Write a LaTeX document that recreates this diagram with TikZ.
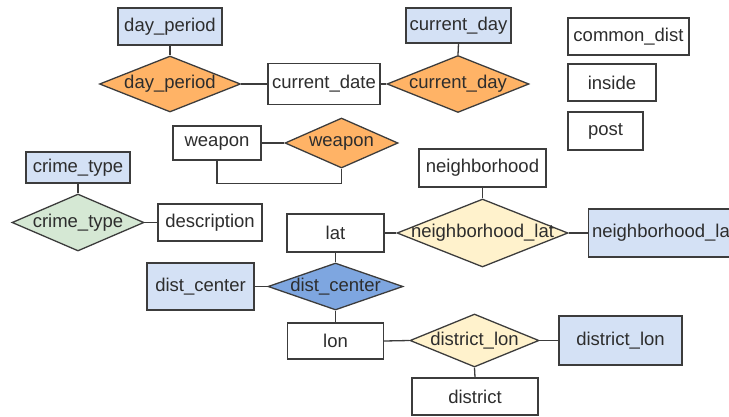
\documentclass[tikz,border=0pt]{standalone}
\usepackage{fontspec}
\setmainfont{Liberation Sans}
\usetikzlibrary{shapes.geometric}
\definecolor{entblue}{RGB}{212,225,245}
\definecolor{relorange}{RGB}{255,179,102}
\definecolor{relgreen}{RGB}{213,232,212}
\definecolor{relyellow}{RGB}{255,242,204}
\definecolor{relblue}{RGB}{126,166,224}
\definecolor{edgegray}{RGB}{60,60,60}
\definecolor{txtgray}{RGB}{45,45,45}
\begin{document}
\begin{tikzpicture}[x=1pt,y=-1pt,
  every node/.style={font=\fontsize{18.5}{22}\selectfont, text=txtgray},
  attr/.style={draw=edgegray, line width=1.3pt, fill=white, rectangle, inner sep=0pt},
  ent/.style={attr, fill=entblue},
  rel/.style={draw=edgegray, line width=1.3pt, diamond, inner sep=0pt},
  link/.style={draw=edgegray, line width=1.3pt}
]
\useasboundingbox (0,0) rectangle (729,416);
\clip (0,0) rectangle (729,416);

% entity-like boxes (blue) and plain attribute boxes
\node[ent,  minimum width=104pt, minimum height=37pt] (e_dayp)   at (170,26.5)  {day\_period};
\node[attr, minimum width=112pt, minimum height=41pt] (a_curdate) at (324,84)   {current\_date};
\node[ent,  minimum width=105pt, minimum height=35pt] (e_curday) at (458.5,25.5) {current\_day};
\node[attr, minimum width=121pt, minimum height=37pt] (a_common) at (628.5,36.5) {common\_dist};
\node[attr, minimum width=88pt,  minimum height=37pt] (a_inside) at (612,82.5)  {inside};
\node[attr, minimum width=75pt,  minimum height=38pt] (a_post)   at (605.5,131) {post};
\node[attr, minimum width=88pt,  minimum height=34pt] (a_weapon) at (217,143)   {weapon};
\node[ent,  minimum width=104pt, minimum height=31pt] (e_crime)  at (78,167.5)  {crime\_type};
\node[attr, minimum width=104pt, minimum height=37pt] (a_desc)   at (210,222.5) {description};
\node[attr, minimum width=97pt,  minimum height=38pt] (a_lat)    at (335.5,233) {lat};
\node[attr, minimum width=127pt, minimum height=38pt] (a_neigh)  at (482.5,168) {neighborhood};
\node[ent,  minimum width=150pt, minimum height=48pt] (e_neighlat) at (663.5,233) {neighborhood\_lat};
\node[ent,  minimum width=107pt, minimum height=47pt] (e_distc)  at (200.5,286.5) {dist\_center};
\node[attr, minimum width=96pt,  minimum height=36pt] (a_lon)    at (335.5,341) {lon};
\node[ent,  minimum width=123pt, minimum height=49pt] (e_distlon) at (620.5,340.5) {district\_lon};
\node[attr, minimum width=126pt, minimum height=37pt] (a_district) at (475,396.5) {district};

% relationship diamonds
\node[rel, fill=relorange, minimum width=141pt, minimum height=56pt,
      label={center:day\_period}] (r_dayp) at (170,84) {};
\node[rel, fill=relorange, minimum width=142pt, minimum height=57pt,
      label={center:current\_day}] (r_curday) at (458,84) {};
\node[rel, fill=relorange, minimum width=113pt, minimum height=50pt,
      label={center:weapon}] (r_weapon) at (341.5,143) {};
\node[rel, fill=relgreen, minimum width=132pt, minimum height=57pt,
      label={center:crime\_type}] (r_crime) at (78,222.5) {};
\node[rel, fill=relyellow, minimum width=171pt, minimum height=68pt,
      label={center:neighborhood\_lat}] (r_neighlat) at (482.5,233) {};
\node[rel, fill=relblue, minimum width=135pt, minimum height=47pt,
      label={center:dist\_center}] (r_distc) at (335.5,286.5) {};
\node[rel, fill=relyellow, minimum width=129pt, minimum height=53pt,
      label={center:district\_lon}] (r_distlon) at (474.5,340.5) {};

% connectors
\draw[link] (e_dayp.south) -- (r_dayp.north);
\draw[link] (r_dayp.east) -- (a_curdate.west);
\draw[link] (a_curdate.east) -- (r_curday.west);
\draw[link] (e_curday.south) -- (r_curday.north);
\draw[link] (a_weapon.east) -- (r_weapon.west);
\draw[link] (a_weapon.south) -- ++(0,23) -| (r_weapon.south);
\draw[link] (e_crime.south) -- (r_crime.north);
\draw[link] (r_crime.east) -- (a_desc.west);
\draw[link] (a_lat.east) -- (r_neighlat.west);
\draw[link] (a_neigh.south) -- (r_neighlat.north);
\draw[link] (r_neighlat.east) -- (e_neighlat.west);
\draw[link] (a_lat.south) -- (r_distc.north);
\draw[link] (e_distc.east) -- (r_distc.west);
\draw[link] (r_distc.south) -- (a_lon.north);
\draw[link] (a_lon.east) -- (r_distlon.west);
\draw[link] (r_distlon.east) -- (e_distlon.west);
\draw[link] (r_distlon.south) -- (a_district.north);
\end{tikzpicture}
\end{document}
